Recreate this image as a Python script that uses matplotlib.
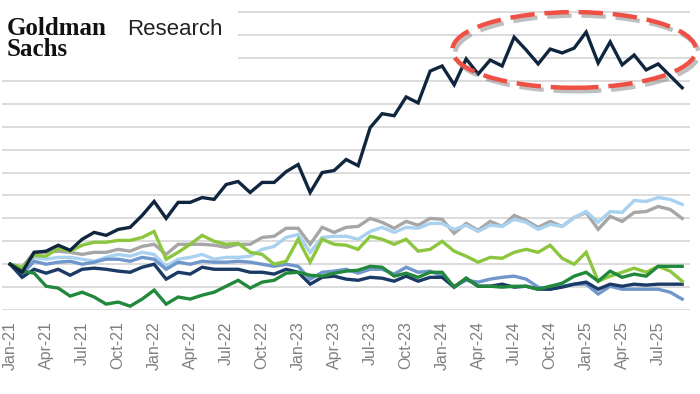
### Goldman Sachs Research: index levels, Jan-21 = 100
#

import numpy as np
import pandas as pd
import matplotlib.pyplot as plt
from matplotlib.patches import Ellipse, Rectangle
import matplotlib.patheffects as pe

plt.rcParams['font.family'] = ['Liberation Sans', 'DejaVu Sans']

months = pd.date_range('2021-01-01', periods=57, freq='MS').strftime('%b-%y').tolist()

dark_navy = [100, 96.5, 105.2, 105.7, 108.3, 106.1, 110.9, 113.9, 112.6, 115.2, 116.1, 121.3,
             127.4, 120.0, 127.0, 127.0, 129.1, 128.3, 134.8, 136.1, 131.3, 135.7, 135.7, 140.4,
             143.5, 131.3, 140.0, 140.9, 145.7, 143.0, 159.6, 165.7, 164.8, 173.0, 170.4, 184.3,
             186.5, 178.3, 189.6, 183.0, 189.1, 186.5, 199.1, 193.5, 187.4, 193.9, 192.2, 194.3,
             201.3, 187.8, 197.0, 187.0, 191.3, 184.8, 187.4, 182.2, 177.0]
light_blue = [100, 97.8, 103.0, 102.2, 103.0, 103.0, 102.2, 101.3, 103.0, 104.3, 103.5, 105.2,
              104.3, 99.1, 102.2, 103.0, 104.3, 102.2, 103.0, 103.0, 103.5, 106.5, 107.8, 111.7,
              113.0, 105.2, 111.7, 112.2, 112.2, 110.9, 114.3, 116.1, 113.9, 116.1, 115.7, 117.8,
              117.8, 115.2, 117.0, 114.3, 117.0, 116.5, 119.6, 118.3, 115.2, 117.4, 116.5, 120.4,
              123.0, 118.3, 123.0, 122.6, 127.8, 127.4, 129.1, 128.3, 126.1]
gray = [100, 98.7, 105.2, 105.2, 105.7, 105.2, 104.3, 105.2, 105.2, 106.5, 105.7, 107.8,
        108.7, 104.3, 108.7, 108.7, 108.7, 108.3, 107.4, 108.7, 108.7, 111.7, 112.2, 115.7,
        115.7, 108.7, 116.1, 113.9, 116.1, 116.5, 120.0, 118.3, 115.7, 118.7, 117.0, 120.0,
        119.6, 113.5, 117.8, 114.8, 118.7, 116.5, 121.3, 119.1, 116.1, 118.7, 116.5, 120.4,
        122.6, 115.2, 120.9, 118.7, 122.6, 123.0, 125.2, 123.9, 120.0]
light_green = [100, 98.7, 103.9, 103.5, 107.0, 105.7, 108.3, 109.6, 109.6, 110.4, 110.4, 111.7,
               114.3, 102.2, 105.2, 108.7, 112.6, 110.0, 108.7, 109.1, 105.2, 104.3, 100.0, 101.3,
               110.9, 100.9, 110.9, 108.7, 108.3, 106.5, 112.2, 110.9, 108.7, 110.9, 105.7, 106.5,
               110.0, 105.7, 103.5, 100.9, 103.0, 102.6, 105.2, 106.5, 105.2, 108.3, 102.6, 100.0,
               105.2, 92.6, 94.8, 96.5, 98.3, 96.5, 99.1, 97.0, 92.6]
dark_green = [100, 97.0, 96.1, 90.4, 89.6, 86.1, 87.8, 85.7, 82.6, 83.5, 81.7, 84.8,
              88.7, 82.6, 85.7, 84.8, 86.5, 87.8, 90.4, 93.0, 89.6, 92.2, 93.0, 96.1,
              96.5, 95.2, 94.8, 96.1, 97.0, 97.4, 99.1, 98.7, 94.8, 96.1, 94.3, 96.5,
              96.5, 90.0, 93.9, 90.4, 90.4, 90.0, 90.4, 90.4, 89.1, 90.4, 91.7, 94.8,
              96.5, 92.6, 97.0, 94.3, 95.7, 94.8, 99.1, 99.1, 99.1]
mid_blue = [100, 95.7, 101.3, 100.0, 100.9, 101.3, 100.0, 100.9, 102.2, 102.2, 101.3, 103.0,
            102.2, 97.8, 100.9, 100.0, 101.3, 100.9, 100.9, 101.3, 100.9, 100.0, 99.1, 100.0,
            99.1, 93.5, 96.5, 97.0, 97.8, 96.1, 97.8, 97.8, 95.7, 98.7, 96.5, 97.0,
            94.8, 90.4, 93.0, 92.2, 93.5, 94.3, 94.8, 93.5, 90.0, 89.1, 90.4, 91.3,
            91.3, 87.0, 90.4, 89.1, 89.1, 89.1, 89.1, 87.8, 84.8]
navy = [100, 94.3, 97.8, 96.1, 97.8, 95.2, 97.8, 98.3, 97.8, 97.0, 96.5, 98.7,
        100.0, 93.5, 96.5, 95.7, 98.7, 97.8, 97.8, 97.8, 96.5, 96.5, 95.7, 97.8,
        96.5, 91.3, 94.3, 94.8, 93.5, 93.0, 94.3, 93.9, 92.6, 94.8, 92.6, 94.3,
        94.3, 90.0, 93.9, 90.4, 90.4, 91.3, 90.0, 90.4, 89.1, 89.1, 90.0, 91.3,
        92.2, 89.1, 91.3, 90.4, 91.3, 90.9, 91.3, 91.3, 91.3]

series = [
    (gray, '#a6a6a6'),
    (light_blue, '#a9d1f0'),
    (mid_blue, '#7097cc'),
    (navy, '#1b3a66'),
    (light_green, '#8cc63f'),
    (dark_green, '#21883c'),
    (dark_navy, '#10263f'),
]

fig = plt.figure(figsize=(7, 3.94), dpi=100)
ax = fig.add_axes([0.003, 0.213, 0.983, 0.762])

x = np.arange(len(months))
for vals, col in series:
    ax.plot(x, vals, color=col, lw=2.4, solid_joinstyle='miter', zorder=3)

ax.set_xlim(-0.67, 56.67)
ax.set_ylim(80, 211)
ax.set_yticks(np.arange(80, 211, 10))
ax.set_yticklabels([])
ax.grid(axis='y', color='#d9d9d9', lw=1.3)
ax.set_axisbelow(True)
ax.tick_params(length=0)
for s in ax.spines.values():
    s.set_visible(False)

ax.set_xticks(x[::3])
ax.set_xticklabels(months[::3], rotation=90, fontsize=11.5, color='#7f7f7f')
ax.tick_params(axis='x', pad=8)

# white box behind the logo hides the top gridlines
ax.add_patch(Rectangle((0, 0.80), 0.343, 0.25, transform=ax.transAxes,
                       facecolor='white', edgecolor='none', zorder=1, clip_on=False))

# highlight of the last ~18 months
ell = Ellipse((47, 193.5), 20.3, 33, facecolor='none', edgecolor='#ef5044',
              lw=3.2, ls=(0, (5.5, 2.2)), zorder=5, clip_on=False,
              path_effects=[pe.SimpleLineShadow(offset=(2, -2.5), shadow_color='gray', alpha=0.5),
                            pe.Normal()])
ax.add_patch(ell)

fig.text(0.009, 0.912, 'Goldman', fontsize=18, fontweight='bold', family='Liberation Serif',
         color='#111111', va='baseline')
fig.text(0.009, 0.858, 'Sachs', fontsize=18, fontweight='bold', family='Liberation Serif',
         color='#111111', va='baseline')
fig.text(0.181, 0.912, 'Research', fontsize=16, family='Liberation Sans',
         color='#222222', va='baseline')

fig.savefig('out.png', dpi=100, facecolor='white')
